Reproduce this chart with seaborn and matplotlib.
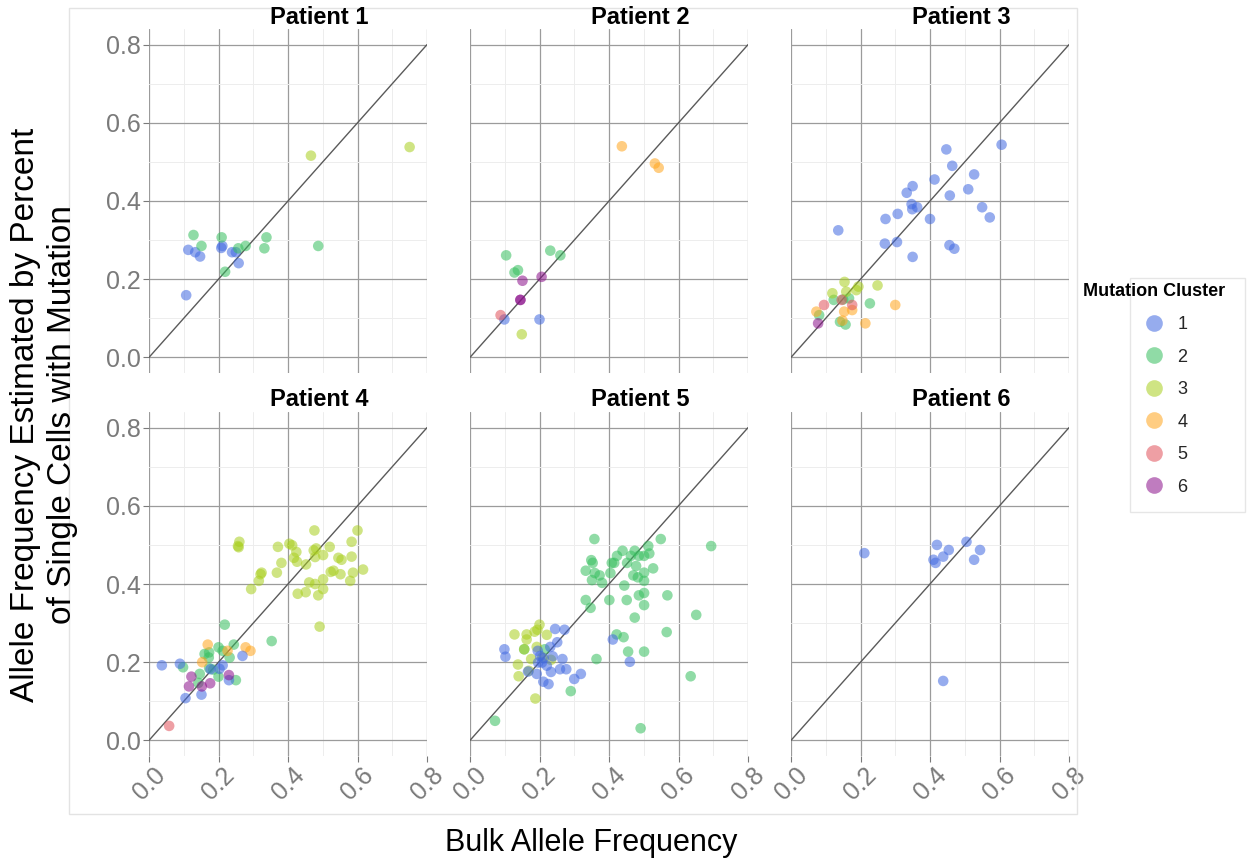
import numpy as np
import pandas as pd
import matplotlib
matplotlib.use("Agg")
import matplotlib.pyplot as plt
from matplotlib.lines import Line2D
from matplotlib.patches import Rectangle
import seaborn as sns

# ---------------- data ----------------
p1_bulk = [0.113, 0.133, 0.147, 0.107, 0.208, 0.211, 0.239, 0.250, 0.258,
           0.128, 0.151, 0.209, 0.219, 0.257, 0.278, 0.338, 0.332, 0.487,
           0.466, 0.750]
p1_sc = [0.275, 0.269, 0.258, 0.159, 0.280, 0.285, 0.269, 0.269, 0.241,
         0.313, 0.285, 0.307, 0.219, 0.279, 0.285, 0.307, 0.279, 0.285,
         0.516, 0.538]
p1_cluster = [1] * 9 + [2] * 9 + [3] * 2

p2_bulk = [0.099, 0.200,
           0.104, 0.128, 0.138, 0.231, 0.260,
           0.149,
           0.437, 0.532, 0.543,
           0.088,
           0.151, 0.206, 0.145, 0.145]
p2_sc = [0.097, 0.097,
         0.261, 0.217, 0.223, 0.273, 0.261,
         0.059,
         0.540, 0.496, 0.485,
         0.108,
         0.196, 0.206, 0.147, 0.147]
p2_cluster = [1, 1, 2, 2, 2, 2, 2, 3, 4, 4, 4, 5, 6, 6, 6, 6]

p3_bulk = [0.447, 0.606, 0.464, 0.527, 0.413, 0.350, 0.333, 0.457, 0.510,
           0.347, 0.349, 0.363, 0.550, 0.572, 0.307, 0.272, 0.400, 0.136,
           0.270, 0.305, 0.456, 0.470, 0.350,
           0.123, 0.150, 0.167, 0.227, 0.081, 0.141, 0.157,
           0.154, 0.194, 0.188, 0.249, 0.119, 0.159,
           0.073, 0.153, 0.176, 0.300, 0.214, 0.148,
           0.095, 0.176, 0.146,
           0.078]
p3_sc = [0.532, 0.544, 0.490, 0.468, 0.455, 0.438, 0.421, 0.414, 0.430,
         0.392, 0.379, 0.384, 0.384, 0.358, 0.367, 0.354, 0.354, 0.325,
         0.291, 0.295, 0.287, 0.278, 0.257,
         0.147, 0.148, 0.151, 0.138, 0.108, 0.091, 0.084,
         0.193, 0.181, 0.172, 0.184, 0.164, 0.168,
         0.117, 0.117, 0.121, 0.134, 0.087, 0.094,
         0.134, 0.134, 0.147,
         0.087]
p3_cluster = [1] * 23 + [2] * 7 + [3] * 6 + [4] * 6 + [5] * 3 + [6]

p4_bulk = [0.476, 0.600, 0.260, 0.258, 0.256, 0.371, 0.404, 0.412, 0.424,
           0.474, 0.481, 0.520, 0.583, 0.501, 0.478, 0.417, 0.426, 0.452,
           0.381, 0.545, 0.554, 0.583, 0.324, 0.321, 0.368, 0.316, 0.294,
           0.523, 0.531, 0.551, 0.587, 0.616, 0.461, 0.478, 0.501, 0.579,
           0.428, 0.451, 0.487, 0.501, 0.491,
           0.218, 0.353, 0.244, 0.200, 0.212, 0.160, 0.173, 0.172, 0.232,
           0.098, 0.173, 0.185, 0.146, 0.200, 0.250, 0.142,
           0.169, 0.226, 0.278, 0.292, 0.153,
           0.037, 0.089, 0.269, 0.212, 0.203, 0.177, 0.230, 0.151, 0.105,
           0.122, 0.230, 0.115, 0.152, 0.176,
           0.058]
p4_sc = [0.537, 0.537, 0.508, 0.494, 0.497, 0.495, 0.503, 0.499, 0.482,
         0.486, 0.491, 0.495, 0.508, 0.474, 0.469, 0.467, 0.457, 0.450,
         0.454, 0.467, 0.462, 0.470, 0.429, 0.425, 0.429, 0.408, 0.387,
         0.431, 0.434, 0.425, 0.429, 0.437, 0.404, 0.400, 0.412, 0.408,
         0.375, 0.379, 0.371, 0.387, 0.291,
         0.296, 0.254, 0.245, 0.238, 0.229, 0.221, 0.225, 0.212, 0.212,
         0.187, 0.185, 0.181, 0.170, 0.163, 0.154, 0.147,
         0.245, 0.229, 0.238, 0.229, 0.200,
         0.192, 0.196, 0.216, 0.192, 0.183, 0.182, 0.154, 0.117, 0.108,
         0.163, 0.167, 0.138, 0.138, 0.146,
         0.037]
p4_cluster = [3] * 41 + [2] * 16 + [4] * 5 + [1] * 9 + [6] * 5 + [5]

p5_bulk = [0.358, 0.549, 0.694, 0.513, 0.516, 0.439, 0.423, 0.474, 0.463,
           0.486, 0.501, 0.349, 0.353, 0.415, 0.408, 0.452, 0.478, 0.527,
           0.501, 0.333, 0.359, 0.373, 0.404, 0.470, 0.483, 0.501, 0.351,
           0.380, 0.444, 0.501, 0.486, 0.568, 0.333, 0.401, 0.451, 0.347,
           0.501, 0.474, 0.651, 0.566, 0.422, 0.442, 0.455, 0.501, 0.364,
           0.635, 0.290, 0.072, 0.491, 0.215, 0.156,
           0.200, 0.194, 0.186, 0.163, 0.128, 0.221, 0.163, 0.192, 0.176,
           0.138, 0.169, 0.140, 0.188, 0.208, 0.233, 0.156,
           0.245, 0.272, 0.251, 0.231, 0.099, 0.102, 0.195, 0.202, 0.212,
           0.238, 0.266, 0.196, 0.221, 0.259, 0.277, 0.233, 0.167, 0.192,
           0.319, 0.300, 0.211, 0.226, 0.411, 0.460, 0.207]
p5_sc = [0.515, 0.515, 0.497, 0.497, 0.478, 0.485, 0.472, 0.485, 0.472,
         0.472, 0.472, 0.461, 0.454, 0.454, 0.454, 0.454, 0.446, 0.440,
         0.429, 0.434, 0.428, 0.422, 0.428, 0.422, 0.417, 0.408, 0.410,
         0.403, 0.396, 0.377, 0.371, 0.371, 0.359, 0.359, 0.359, 0.339,
         0.346, 0.314, 0.321, 0.277, 0.271, 0.264, 0.227, 0.227, 0.208,
         0.164, 0.126, 0.050, 0.031, 0.233, 0.233,
         0.296, 0.283, 0.278, 0.271, 0.271, 0.270, 0.258, 0.239, 0.208,
         0.194, 0.178, 0.164, 0.107, 0.212, 0.206, 0.233,
         0.285, 0.283, 0.251, 0.239, 0.233, 0.214, 0.229, 0.216, 0.210,
         0.215, 0.208, 0.199, 0.191, 0.182, 0.182, 0.175, 0.176, 0.170,
         0.170, 0.157, 0.150, 0.144, 0.258, 0.201, 0.199]
p5_cluster = [2] * 51 + [3] * 16 + [1] * 25

p6_bulk = [0.211, 0.420, 0.454, 0.505, 0.544, 0.438, 0.410, 0.416, 0.527, 0.438]
p6_sc = [0.479, 0.500, 0.487, 0.508, 0.487, 0.470, 0.462, 0.454, 0.462, 0.152]
p6_cluster = [1] * 10

patients = ["Patient 1", "Patient 2", "Patient 3", "Patient 4", "Patient 5", "Patient 6"]
cluster_levels = [1, 2, 3, 4, 5, 6]
cluster_colors = ["#4169E1", "#36BF5E", "#A9CF1E", "#FFA51C", "#E0505A", "#8B108B"]
axis_ticks = [0.0, 0.2, 0.4, 0.6, 0.8]
axis_tick_labels = ["0.0", "0.2", "0.4", "0.6", "0.8"]

bulk_all = [p1_bulk, p2_bulk, p3_bulk, p4_bulk, p5_bulk, p6_bulk]
sc_all = [p1_sc, p2_sc, p3_sc, p4_sc, p5_sc, p6_sc]
cl_all = [p1_cluster, p2_cluster, p3_cluster, p4_cluster, p5_cluster, p6_cluster]

frames = []
for name, b, s, c in zip(patients, bulk_all, sc_all, cl_all):
    frames.append(pd.DataFrame({"patient": name, "bulk": b, "sc": s, "cluster": c}))
df = pd.concat(frames, ignore_index=True)

# ---------------- style ----------------
sns.set_theme(style="white")
plt.rcParams["font.family"] = ["Liberation Sans", "DejaVu Sans"]

W, H = 1247, 861
fig = plt.figure(figsize=(W / 100, H / 100), dpi=100)

col_left = [149, 470, 791]
panel_w = 278
row_top = [29, 412]
panel_h = 344

palette = dict(zip(cluster_levels, cluster_colors))
grid_major = "#9b9b9b"
grid_minor = "#ededed"
tick_col = "#7a7a7a"

# outer light border
fig.add_artist(Rectangle((69 / W, 1 - 814 / H), (1077 - 69) / W, (814 - 8) / H,
                         transform=fig.transFigure, fill=False,
                         edgecolor="#e3e3e3", linewidth=1.0))

for i, name in enumerate(patients):
    r, c = divmod(i, 3)
    left = col_left[c] / W
    bottom = 1 - (row_top[r] + panel_h) / H
    ax = fig.add_axes([left, bottom, panel_w / W, panel_h / H])
    sub = df[df["patient"] == name]
    ax.plot([0, 0.8], [0, 0.8], color="#5a5a5a", linewidth=1.0, zorder=2)
    sns.scatterplot(data=sub, x="bulk", y="sc", hue="cluster", hue_order=cluster_levels,
                    palette=palette, s=58, alpha=0.55, linewidth=0, legend=False,
                    ax=ax, zorder=3)
    ax.set_xlim(0, 0.8)
    ax.set_ylim(-0.04, 0.84)
    ax.set_xticks(axis_ticks)
    ax.set_yticks(axis_ticks)
    ax.set_xticks([0.1, 0.3, 0.5, 0.7], minor=True)
    ax.set_yticks([0.1, 0.3, 0.5, 0.7], minor=True)
    ax.grid(which="major", color=grid_major, linewidth=0.9)
    ax.grid(which="minor", color=grid_minor, linewidth=0.7)
    ax.set_axisbelow(True)
    for sp in ax.spines.values():
        sp.set_visible(False)
    ax.set_xlabel("")
    ax.set_ylabel("")
    ax.tick_params(which="minor", length=0)
    if c == 0:
        ax.set_yticklabels(axis_tick_labels)
        ax.tick_params(axis="y", which="major", length=4, color=tick_col, width=0.8,
                       labelsize=18, labelcolor=tick_col, pad=2, left=True)
    else:
        ax.tick_params(axis="y", which="major", length=0, labelleft=False)
    if r == 1:
        ax.set_xticklabels(axis_tick_labels, rotation=45, ha="center", va="top")
        ax.tick_params(axis="x", which="major", length=4, color=tick_col, width=0.8,
                       labelsize=18, labelcolor=tick_col, pad=1, bottom=True)
    else:
        ax.tick_params(axis="x", which="major", length=0, labelbottom=False)
    # strip title
    fig.text((col_left[c] + panel_w / 2 + 31) / W, 1 - (row_top[r] - 12) / H, name,
             ha="center", va="center", fontsize=17, fontweight="bold", color="black")

# axis titles
fig.text(591 / W, 1 - 843 / H, "Bulk Allele Frequency", ha="center", va="center",
         fontsize=22, color="black")
fig.text(44 / W, 1 - 415 / H,
         "Allele Frequency Estimated by Percent\nof Single Cells with Mutation",
         ha="center", va="center", rotation=90, fontsize=24, color="black",
         linespacing=1.22, multialignment="center")

# legend
fig.add_artist(Rectangle((1130 / W, 1 - 512 / H), (1245 - 1130) / W, (512 - 278) / H,
                         transform=fig.transFigure, fill=False,
                         edgecolor="#e6e6e6", linewidth=1.0))
fig.text(1083 / W, 1 - 291 / H, "Mutation Cluster", ha="left", va="center",
         fontsize=13, fontweight="bold", color="black")
handles = [Line2D([], [], marker="o", linestyle="none", markersize=12,
                  markerfacecolor=col, markeredgewidth=0, alpha=0.55)
           for col in cluster_colors]
fig.legend(handles, [str(k) for k in cluster_levels], loc="upper left",
           bbox_to_anchor=(1143 / W, 1 - 316 / H), frameon=False, fontsize=13,
           labelspacing=0.86, handletextpad=0.7, handlelength=1.2, borderpad=0,
           borderaxespad=0)

fig.savefig("out.png", dpi=100)
